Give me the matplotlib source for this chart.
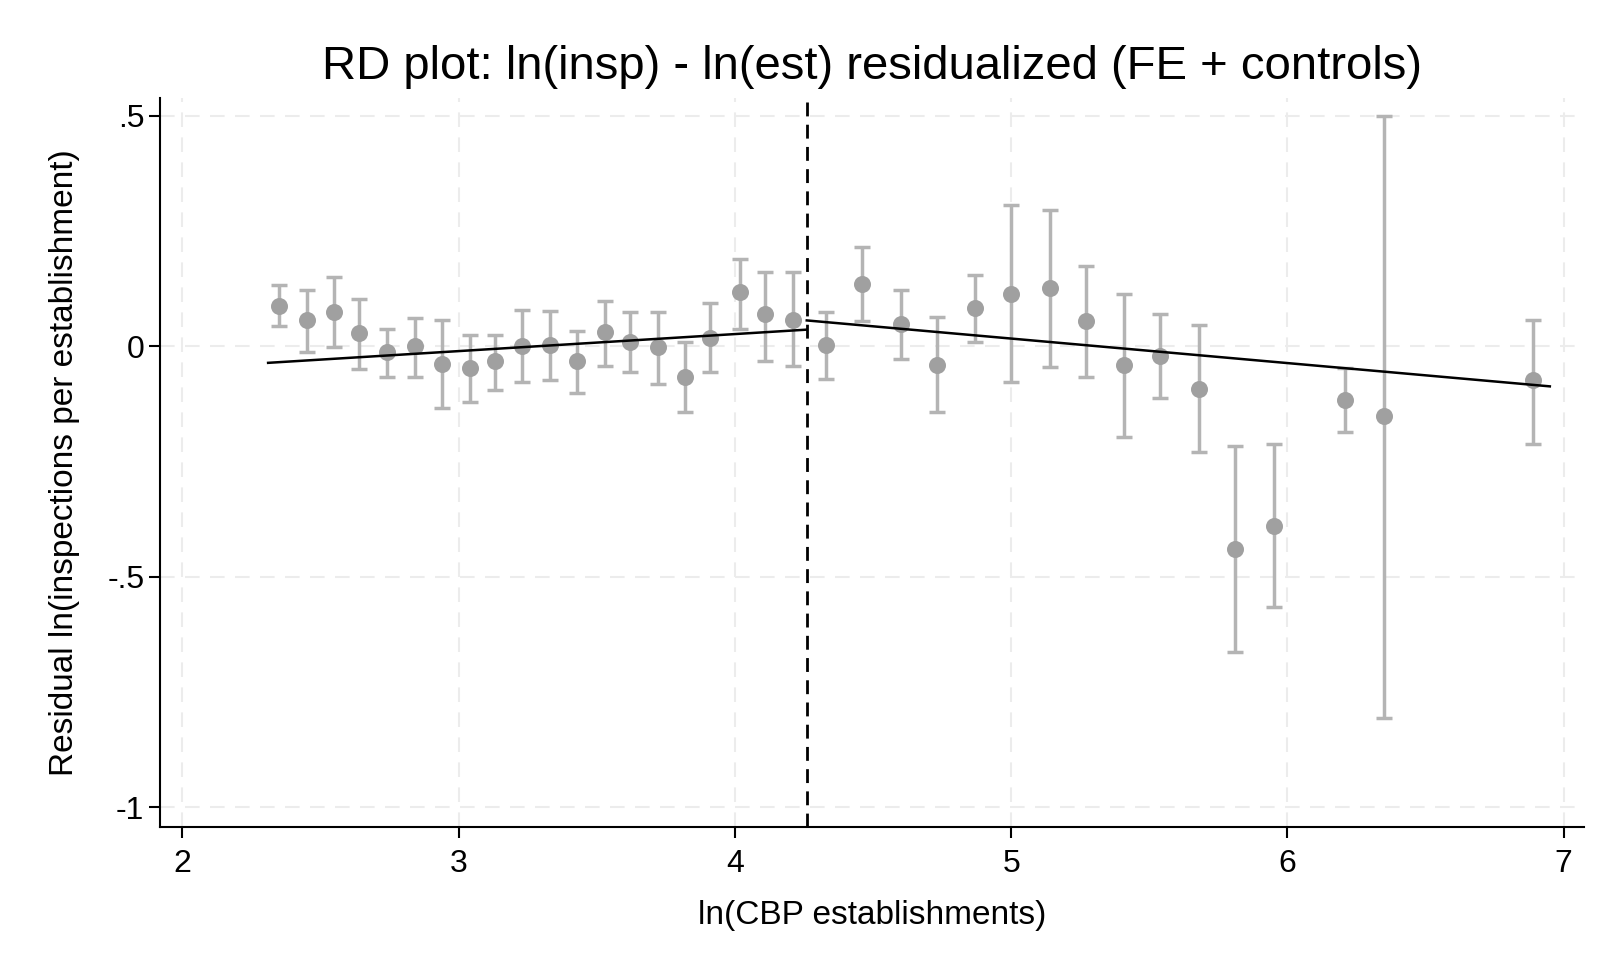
import matplotlib.pyplot as plt
import numpy as np

plt.rcParams['font.family'] = ['Liberation Sans', 'DejaVu Sans']

# binned means left of cutoff
x_left = [2.35, 2.45, 2.55, 2.64, 2.74, 2.84, 2.94, 3.04, 3.13, 3.23,
          3.33, 3.43, 3.53, 3.62, 3.72, 3.82, 3.91, 4.02, 4.11, 4.21]
y_left = [0.087, 0.056, 0.074, 0.029, -0.013, 0.000, -0.038, -0.047, -0.031, 0.000,
          0.002, -0.031, 0.031, 0.009, -0.002, -0.067, 0.018, 0.117, 0.070, 0.058]
hi_left = [0.132, 0.121, 0.150, 0.103, 0.038, 0.061, 0.056, 0.025, 0.025, 0.078,
           0.076, 0.034, 0.099, 0.074, 0.074, 0.009, 0.094, 0.190, 0.161, 0.161]
lo_left = [0.043, -0.013, -0.002, -0.049, -0.067, -0.067, -0.135, -0.121, -0.094, -0.078,
           -0.074, -0.101, -0.043, -0.056, -0.081, -0.143, -0.056, 0.038, -0.031, -0.043]

# binned means right of cutoff
x_right = [4.33, 4.46, 4.60, 4.73, 4.87, 5.00, 5.14, 5.27, 5.41, 5.54,
           5.68, 5.81, 5.95, 6.21, 6.35, 6.89]
y_right = [0.002, 0.135, 0.049, -0.040, 0.083, 0.114, 0.126, 0.054, -0.040, -0.022,
           -0.092, -0.439, -0.390, -0.117, -0.152, -0.074]
hi_right = [0.074, 0.215, 0.121, 0.063, 0.155, 0.307, 0.296, 0.175, 0.114, 0.070,
            0.045, -0.217, -0.213, -0.047, 0.500, 0.058]
lo_right = [-0.072, 0.054, -0.027, -0.143, 0.009, -0.078, -0.045, -0.067, -0.197, -0.112,
            -0.229, -0.664, -0.565, -0.186, -0.807, -0.211]

cutoff = 4.26
fit_left_x = [2.31, cutoff]
fit_left_y = [-0.036, 0.036]
fit_right_x = [cutoff, 6.95]
fit_right_y = [0.056, -0.087]

x = np.array(x_left + x_right)
y = np.array(y_left + y_right)
hi = np.array(hi_left + hi_right)
lo = np.array(lo_left + lo_right)

fig = plt.figure(figsize=(16.2, 9.72), dpi=100)
ax = fig.add_axes([0.099, 0.149, 0.879, 0.75])

ax.grid(True, color='#ececec', linestyle=(0, (7, 5)), linewidth=1.5)
ax.set_axisbelow(True)

ax.errorbar(x, y, yerr=[y - lo, hi - y], fmt='none', ecolor='#b4b4b4',
            elinewidth=2.5, capsize=6, capthick=2.5, zorder=2)
ax.scatter(x, y, s=150, color='#a0a0a0', zorder=3, linewidths=0)

ax.plot(fit_left_x, fit_left_y, color='black', linewidth=1.8, zorder=4)
ax.plot(fit_right_x, fit_right_y, color='black', linewidth=1.8, zorder=4)
ax.axvline(cutoff, color='black', linestyle=(0, (5, 3)), linewidth=2, zorder=5)

ax.set_xlim(1.92, 7.075)
ax.set_ylim(-1.043, 0.538)
ax.set_xticks([2, 3, 4, 5, 6, 7])
ax.set_yticks([0.5, 0, -0.5, -1])
ax.set_yticklabels(['.5', '0', '-.5', '-1'])
ax.tick_params(labelsize=23, width=1.5, length=8)
ax.tick_params(axis='x', pad=8)

for s in ['top', 'right']:
    ax.spines[s].set_visible(False)
for s in ['left', 'bottom']:
    ax.spines[s].set_linewidth(1.5)

ax.set_xlabel('ln(CBP establishments)', fontsize=24, labelpad=15)
ax.set_ylabel('Residual ln(inspections per establishment)', fontsize=24, labelpad=20)
ax.set_title('RD plot: ln(insp) - ln(est) residualized (FE + controls)', fontsize=34, pad=14)

plt.savefig('out.png', dpi=100)
